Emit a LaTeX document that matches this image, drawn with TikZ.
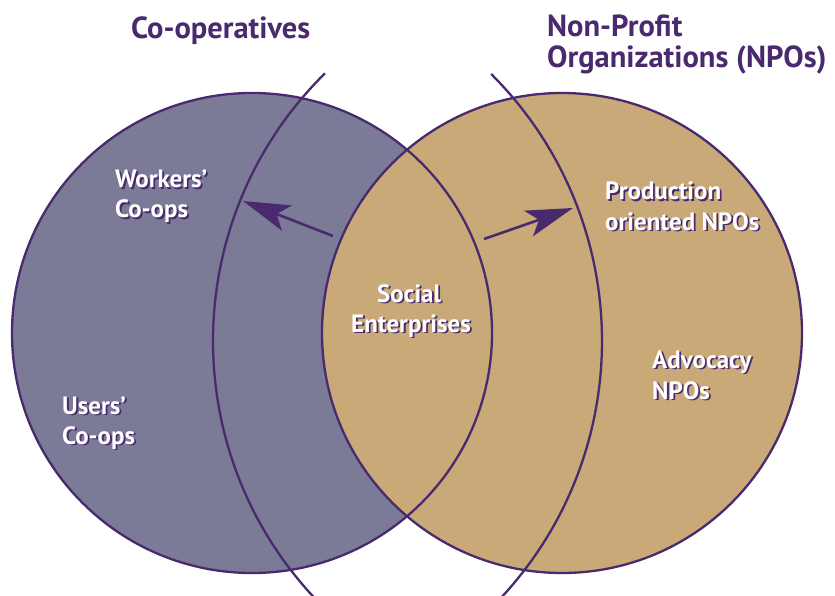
\documentclass[tikz,border=0pt]{standalone}
\usepackage{fontspec}
\setmainfont{PT Sans}
\usetikzlibrary{arrows.meta}
\definecolor{coopfill}{HTML}{7B7B97}
\definecolor{npofill}{HTML}{C8A977}
\definecolor{ink}{HTML}{4A2A6E}
\tikzset{
  ring/.style={draw=ink, line width=2.3pt},
  arcline/.style={draw=ink, line width=2.3pt},
  arr/.style={draw=ink, line width=2.6pt, -{Stealth[length=47pt, width=27pt, inset=11pt]}},
  ttl/.style={font=\bfseries\fontsize{30.5}{31}\selectfont, text=ink, inner sep=0pt, anchor=base west},
  lbl/.style={font=\bfseries\fontsize{25}{30}\selectfont, inner sep=0pt}
}
\newcommand\shtext[1]{\leavevmode\rlap{\hspace{1.8pt}\raisebox{-1.8pt}{\textcolor{ink}{#1}}}\textcolor{white}{#1}}
\begin{document}
\begin{tikzpicture}[x=1pt,y=-1pt]
\useasboundingbox (0,0) rectangle (835,596);
\coordinate (cl) at (252,333);
\coordinate (cr) at (562,333);
\fill[coopfill] (cl) circle[radius=240pt];
\fill[npofill] (cr) circle[radius=240pt];
\draw[ring] (cl) circle[radius=240pt];
\draw[ring] (cr) circle[radius=240pt];
% big arcs
\coordinate (al) at (589,341);
\coordinate (ar) at (225,341);
\draw[arcline] (al) ++(134.6:376pt) arc[start angle=134.6, end angle=223, radius=376pt];
\draw[arcline] (ar) ++(45.1:377pt) arc[start angle=45.1, end angle=-43, radius=377pt];
% arrows
\coordinate (latail) at (333,236);
\coordinate (latip) at (243,201);
\coordinate (ratail) at (484,239);
\coordinate (ratip) at (573,208);
\draw[arr] (latail) -- (latip);
\draw[arr] (ratail) -- (ratip);
% titles
\node[ttl] (tcoop) at (131,39) {Co-operatives};
\node[ttl] (tnpo1) at (547,37) {Non-Profit};
\node[ttl] (tnpo2) at (547,68) {Organizations (NPOs)};
% labels
\node[lbl, anchor=base west] (w1) at (115,188) {\shtext{Workers’}};
\node[lbl, anchor=base west] (w2) at (115,218) {\shtext{Co-ops}};
\node[lbl, anchor=base west] (u1) at (62,414) {\shtext{Users’}};
\node[lbl, anchor=base west] (u2) at (62,444) {\shtext{Co-ops}};
\node[lbl, anchor=base] (s1) at (409,302) {\shtext{Social}};
\node[lbl, anchor=base] (s2) at (411,332) {\shtext{Enterprises}};
\node[lbl, anchor=base west] (p1) at (605,200) {\shtext{Production}};
\node[lbl, anchor=base west] (p2) at (605,230) {\shtext{oriented NPOs}};
\node[lbl, anchor=base west] (a1) at (652,368) {\shtext{Advocacy}};
\node[lbl, anchor=base west] (a2) at (652,399) {\shtext{NPOs}};
\end{tikzpicture}
\end{document}
